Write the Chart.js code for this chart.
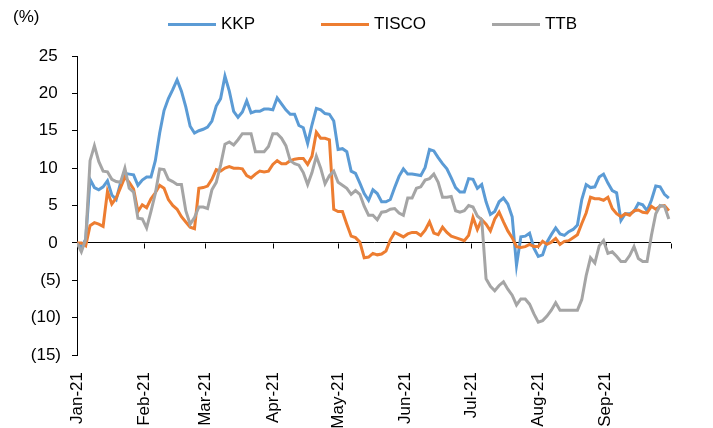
<!DOCTYPE html>
<html lang="en">
<head>
<meta charset="UTF-8">
<title>KKP / TISCO / TTB</title>
<style>
  * { margin: 0; padding: 0; box-sizing: border-box; }
  body { background: #fff; font-family: 'Liberation Sans', Arial, sans-serif; color: #000; }
  .wrap { position: relative; width: 713px; height: 428px; }
  .unit { position: absolute; left: 13px; top: 7px; font-size: 17px; }
  .legend { position: absolute; left: 168px; top: 14px; display: flex; gap: 66px; font-size: 17px; }
  .legend .item { display: flex; align-items: center; }
  .legend i { display: inline-block; width: 48px; height: 3px; margin-right: 5px; }
</style>
</head>
<body>
<div class="wrap">
  <canvas id="chart" width="713" height="428"></canvas>
  <div class="unit">(%)</div>
  <div class="legend" id="legend"></div>
</div>

<script src="https://cdn.jsdelivr.net/npm/chart.js"></script>
<script>
// days since 1 Jan 2021, sampled every 2 days
const days = [
  0, 2, 4, 6, 8, 10, 12, 14, 16, 18,
  20, 22, 24, 26, 28, 30, 32, 34, 36, 38,
  40, 42, 44, 46, 48, 50, 52, 54, 56, 58,
  60, 62, 64, 66, 68, 70, 72, 74, 76, 78,
  80, 82, 84, 86, 88, 90, 92, 94, 96, 98,
  100, 102, 104, 106, 108, 110, 112, 114, 116, 118,
  120, 122, 124, 126, 128, 130, 132, 134, 136, 138,
  140, 142, 144, 146, 148, 150, 152, 154, 156, 158,
  160, 162, 164, 166, 168, 170, 172, 174, 176, 178,
  180, 182, 184, 186, 188, 190, 192, 194, 196, 198,
  200, 202, 204, 206, 208, 210, 212, 214, 216, 218,
  220, 222, 224, 226, 228, 230, 232, 234, 236, 238,
  240, 242, 244, 246, 248, 250, 252, 254, 256, 258,
  260, 262, 264, 266, 268, 270, 272
];

// YTD share price change (%)
const kkp = [
  0, -0.6, 0.5, 8.5, 7.4, 7.1, 7.5, 8.3, 6.4, 5.8,
  8.0, 9.3, 9.2, 9.1, 7.7, 8.4, 8.8, 8.8, 11.0, 14.7,
  17.7, 19.3, 20.5, 21.8, 20.3, 18.2, 15.6, 14.7, 15.0, 15.2,
  15.5, 16.3, 18.3, 19.3, 22.3, 20.3, 17.6, 16.8, 17.5, 19.0,
  17.4, 17.6, 17.6, 17.9, 17.9, 17.8, 19.4, 18.6, 17.8, 17.2,
  17.2, 15.7, 15.4, 13.3, 15.8, 18.0, 17.8, 17.3, 17.2, 16.3,
  12.5, 12.6, 12.2, 9.6, 9.3, 8.0, 6.6, 5.7, 7.1, 6.6,
  5.5, 5.5, 5.8, 7.4, 8.9, 9.9, 9.2, 9.2, 9.1, 9.0,
  10.1, 12.5, 12.3, 11.4, 10.6, 9.9, 8.7, 7.4, 6.8, 6.8,
  8.6, 8.5, 7.3, 7.8, 5.5, 3.8, 4.2, 5.5, 6.0, 5.2,
  3.5, -3.0, 0.8, 0.9, 1.3, -0.7, -1.8, -1.6, 0.1, 1.1,
  2.0, 1.2, 1.0, 1.5, 1.8, 2.4, 5.8, 7.8, 7.4, 7.5,
  8.8, 9.2, 8.0, 7.0, 6.7, 3.0, 3.9, 3.9, 4.2, 5.3,
  5.1, 4.3, 5.7, 7.6, 7.5, 6.5, 6.0
];

const tisco = [
  0, 0, -0.4, 2.3, 2.7, 2.5, 2.2, 6.9, 5.2, 6.0,
  7.4, 8.8, 8.1, 7.2, 4.2, 5.1, 4.7, 5.9, 6.7, 7.7,
  7.3, 5.8, 5.0, 4.5, 3.5, 2.8, 2.1, 1.9, 7.3, 7.4,
  7.6, 8.5, 9.8, 9.6, 10.0, 10.2, 10.0, 10.0, 9.9, 9.0,
  8.7, 9.2, 9.6, 9.5, 9.6, 10.5, 11.0, 10.6, 10.6, 11.0,
  11.2, 11.3, 11.3, 10.5, 11.6, 14.8, 14.0, 14.0, 13.8, 4.5,
  4.2, 4.2, 2.5, 0.9, 0.7, 0.1, -2.0, -1.9, -1.4, -1.6,
  -1.5, -1.1, 0.4, 1.4, 1.1, 0.8, 1.2, 1.4, 1.4, 1.0,
  1.7, 2.8, 1.3, 1.1, 2.1, 1.4, 0.9, 0.7, 0.5, 0.3,
  1.0, 3.4, 1.8, 3.1, 2.5, 1.6, 3.2, 4.1, 2.8, 1.6,
  0.7, -0.5, -0.6, -0.5, -0.2, -0.5, -0.5, 0.2, -0.2, 0.1,
  0.6, -0.2, 0.2, 0.3, 0.7, 1.1, 2.6, 4.0, 6.1, 5.9,
  5.9, 5.7, 6.1, 4.6, 3.9, 3.5, 3.9, 3.7, 4.3, 4.4,
  4.1, 4.0, 4.9, 4.5, 4.9, 5.0, 4.3
];

const ttb = [
  0, -1.2, 0.5, 11.0, 13.0, 10.9, 9.6, 9.5, 8.5, 8.2,
  8.1, 10.0, 7.3, 6.8, 3.3, 3.2, 2.0, 4.2, 6.6, 9.9,
  9.8, 8.5, 8.2, 7.8, 7.8, 4.3, 2.5, 3.4, 4.8, 4.8,
  4.6, 7.1, 8.1, 10.4, 13.2, 13.5, 13.1, 13.8, 14.6, 14.6,
  14.6, 12.2, 12.2, 12.2, 12.9, 14.6, 14.6, 14.0, 13.0, 11.0,
  10.6, 10.4, 9.4, 7.8, 9.4, 11.6, 10.0, 7.9, 9.0, 9.6,
  8.1, 7.7, 7.3, 6.5, 7.0, 6.5, 4.9, 3.7, 3.7, 3.1,
  4.1, 4.2, 4.5, 4.6, 4.0, 3.7, 6.0, 6.0, 7.3, 7.5,
  8.4, 8.6, 9.2, 8.1, 6.1, 6.1, 6.2, 4.3, 4.1, 4.3,
  5.0, 4.8, 3.6, 3.1, -4.8, -5.8, -6.4, -5.7, -5.2, -6.2,
  -7.0, -8.3, -7.5, -7.5, -8.2, -9.5, -10.6, -10.4, -9.8, -9.0,
  -8.0, -9.0, -9.0, -9.0, -9.0, -9.0, -7.6, -4.4, -2.0, -2.7,
  -0.4, 0.3, -1.4, -1.2, -1.8, -2.5, -2.5, -1.7, -0.5, -2.1,
  -2.5, -2.5, 1.0, 3.9, 5.0, 4.9, 3.2
];

const seriesNames = ['KKP', 'TISCO', 'TTB'];
const seriesColors = ['#5B9BD5', '#ED7D31', '#A5A5A5'];

// month boundaries (day offset) and their labels
const monthStarts = [0, 31, 59, 90, 120, 151, 181, 212, 243, 273];
const monthLabels = ['Jan-21', 'Feb-21', 'Mar-21', 'Apr-21', 'May-21', 'Jun-21', 'Jul-21', 'Aug-21', 'Sep-21', ''];

const FONT = { family: "'Liberation Sans', Arial, sans-serif", size: 17 };

// small tick marks hanging off the zero line, like the Excel original
const zeroLineTicks = {
    id: 'zeroLineTicks',
    beforeDatasetsDraw(chart) {
        const { ctx, scales: { x, y } } = chart;
        const y0 = Math.round(y.getPixelForValue(0)) + 0.5;
        ctx.save();
        ctx.strokeStyle = '#000';
        ctx.lineWidth = 1;
        ctx.beginPath();
        monthStarts.forEach(d => {
            const px = Math.round(x.getPixelForValue(d)) + 0.5;
            ctx.moveTo(px, y0);
            ctx.lineTo(px, y0 + 5);
        });
        ctx.stroke();
        ctx.restore();
    }
};

const allSeries = [kkp, tisco, ttb];

const ctx = document.getElementById('chart').getContext('2d');
const chart = new Chart(ctx, {
    type: 'line',
    data: {
        labels: days,
        datasets: allSeries.map((vals, i) => ({
            label: seriesNames[i],
            data: vals,
            borderColor: seriesColors[i],
            backgroundColor: seriesColors[i],
            borderWidth: 3,
            pointRadius: 0,
            tension: 0,
            order: allSeries.length - i // later series on top
        }))
    },
    options: {
        responsive: false,
        animation: false,
        layout: { padding: { top: 56, right: 42, bottom: 0, left: 0 } },
        plugins: {
            legend: { display: false },
            tooltip: { enabled: false }
        },
        scales: {
            x: {
                type: 'linear',
                min: 0,
                max: 273,
                grid: { display: false, drawTicks: false },
                border: { display: false },
                afterBuildTicks: scale => {
                    scale.ticks = monthStarts.map(v => ({ value: v }));
                },
                afterFit: scale => { scale.height = 73; },
                ticks: {
                    autoSkip: false,
                    minRotation: 90,
                    maxRotation: 90,
                    padding: 17,
                    color: '#000',
                    font: FONT,
                    callback: v => monthLabels[monthStarts.indexOf(v)]
                }
            },
            y: {
                min: -15,
                max: 25,
                afterFit: scale => { scale.width = 77; },
                border: { display: true, color: '#000', width: 1 },
                grid: {
                    drawOnChartArea: true,
                    color: c => (c.tick && c.tick.value === 0 ? '#000' : 'rgba(0,0,0,0)'),
                    tickColor: '#000',
                    tickLength: 5
                },
                ticks: {
                    stepSize: 5,
                    padding: 11,
                    color: '#000',
                    font: FONT,
                    callback: v => (v < 0 ? '(' + (-v) + ')' : v + '\u2009')
                }
            }
        }
    },
    plugins: [zeroLineTicks]
});

// legend
const legend = document.getElementById('legend');
seriesNames.forEach((name, i) => {
    const item = document.createElement('span');
    item.className = 'item';
    const line = document.createElement('i');
    line.style.background = seriesColors[i];
    item.appendChild(line);
    item.appendChild(document.createTextNode(name));
    legend.appendChild(item);
});
</script>
</body>
</html>
